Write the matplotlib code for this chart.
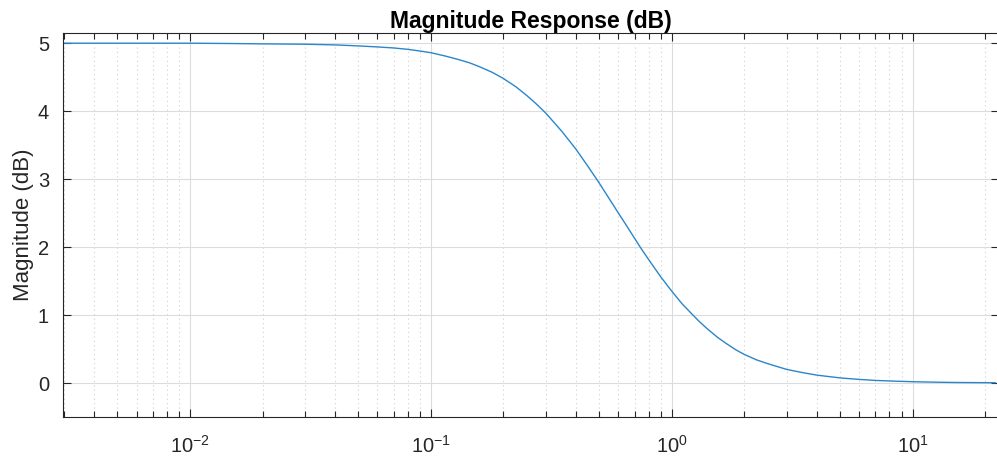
import numpy as np
import matplotlib
matplotlib.use("Agg")
import matplotlib.pyplot as plt
from matplotlib.ticker import LogLocator, NullFormatter, FixedLocator

# frequency (rad/s) and magnitude (dB)
freq = [0.003, 0.005, 0.01, 0.015, 0.02, 0.03, 0.04, 0.05, 0.06, 0.07, 0.08,
        0.09, 0.1, 0.115, 0.13, 0.145, 0.16, 0.18, 0.2, 0.225, 0.25, 0.275,
        0.3, 0.35, 0.4, 0.45, 0.5, 0.55, 0.6, 0.65, 0.7, 0.75, 0.8, 0.9,
        1.0, 1.1, 1.2, 1.3, 1.4, 1.55, 1.7, 1.85, 2.0, 2.25, 2.5, 2.75, 3.0,
        3.5, 4.0, 5.0, 6.0, 7.0, 8.5, 10.0, 12.5, 15.0, 18.0, 22.0]
mag_db = [5.00, 5.00, 5.00, 4.995, 4.99, 4.985, 4.975, 4.96, 4.945, 4.93, 4.91,
          4.885, 4.86, 4.81, 4.76, 4.71, 4.65, 4.57, 4.48, 4.36, 4.23, 4.10,
          3.97, 3.70, 3.44, 3.18, 2.94, 2.71, 2.50, 2.31, 2.13, 1.965, 1.82, 1.56,
          1.35, 1.17, 1.03, 0.905, 0.80, 0.67, 0.57, 0.485, 0.42, 0.34, 0.285, 0.24, 0.20,
          0.152, 0.116, 0.075, 0.053, 0.038, 0.027, 0.019, 0.012, 0.008, 0.006, 0.004]
yticks = [0, 1, 2, 3, 4, 5]

plt.rcParams['font.family'] = ['Liberation Sans', 'DejaVu Sans']
plt.rcParams['mathtext.fontset'] = 'custom'
plt.rcParams['mathtext.rm'] = 'Liberation Sans'
plt.rcParams['mathtext.it'] = 'Liberation Sans'

fig = plt.figure(figsize=(9.97, 4.61), dpi=100)
ax = fig.add_axes([63/997, 44/461, 936/997, 384/461])

ax.semilogx(freq, mag_db, color='#2a86cb', lw=1.0)

ax.set_xlim(0.00297, 22.8)
ax.set_ylim(-0.5, 5.15)
ax.yaxis.set_major_locator(FixedLocator(yticks))
ax.xaxis.set_major_locator(LogLocator(base=10, numticks=10))
ax.xaxis.set_minor_locator(LogLocator(base=10, subs=np.arange(2, 10), numticks=20))
ax.xaxis.set_minor_formatter(NullFormatter())

ax.grid(True, which='major', color='#dcdcdc', lw=0.8, ls='-')
ax.grid(True, which='minor', axis='x', color='#d0d0d0', lw=0.8, ls=(0, (1, 3)))
ax.set_axisbelow(True)

ax.tick_params(which='both', direction='in', top=True, right=True,
               colors='#262626', labelsize=14.5, width=0.8)
ax.tick_params(which='major', length=6)
ax.tick_params(which='minor', length=4)
ax.tick_params(axis='x', pad=13)
ax.tick_params(axis='y', pad=10)
for s in ax.spines.values():
    s.set_color('#262626')
    s.set_linewidth(0.8)

ax.set_ylabel('Magnitude (dB)', fontsize=16, color='#262626', labelpad=3)
ax.set_title('Magnitude Response (dB)', fontsize=16.5, fontweight='bold', pad=3)

fig.savefig('out.png', dpi=100)
